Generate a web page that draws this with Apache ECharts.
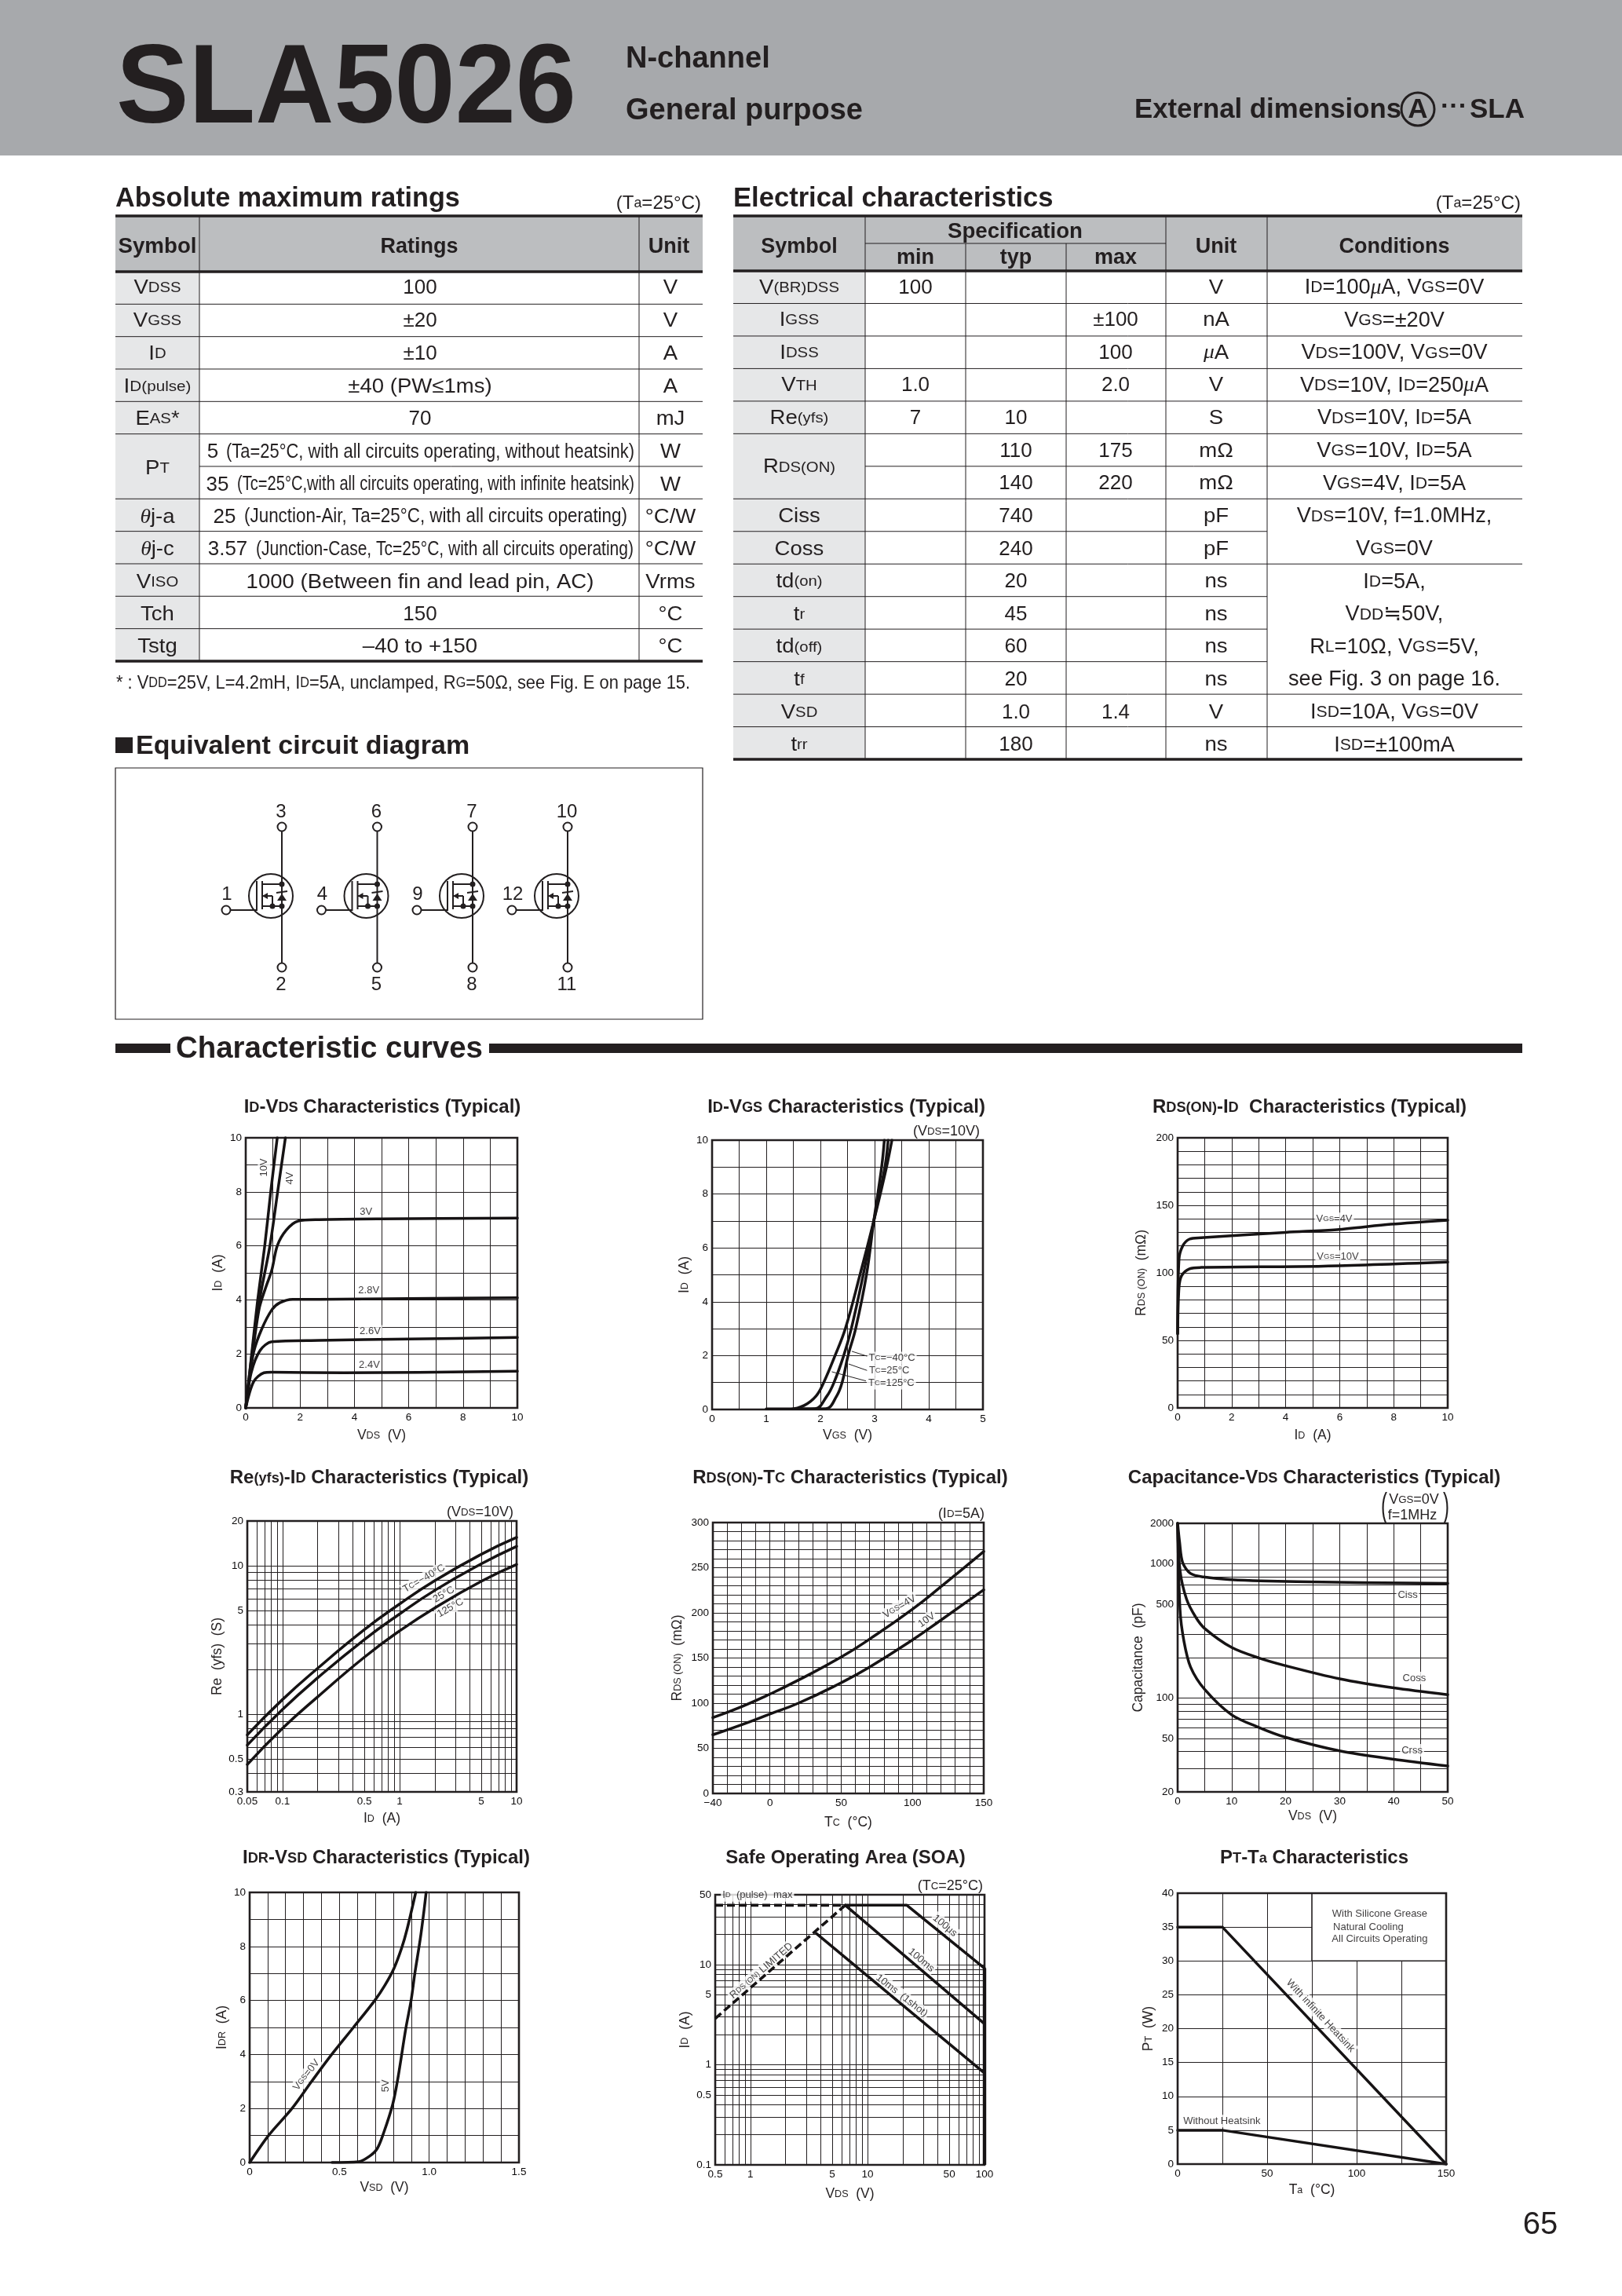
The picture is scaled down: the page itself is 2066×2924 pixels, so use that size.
<!DOCTYPE html>
<html>
<head>
<meta charset="utf-8">
<style>html,body{margin:0;padding:0;background:#fff}#c{width:2066px;height:2924px}</style>
<script src="https://cdn.jsdelivr.net/npm/echarts@6/dist/echarts.min.js"></script>
</head>
<body>
<div id="c"></div>
<script>
/* ---------- table contents ---------- */
const absSymbols=['V_{DSS}','V_{GSS}','I_{D}','I_{D(pulse)}','E_{AS}*','P_{T}','','~{θ}j-a','~{θ}j-c','V_{ISO}','Tch','Tstg'];
const absRatings=['100','±20','±10','±40 (PW≤1ms)','70','5 (Ta=25°C, with all circuits operating, without heatsink)','35 (Tc=25°C,with all circuits operating, with infinite heatsink)','25 (Junction-Air, Ta=25°C, with all circuits operating)','3.57 (Junction-Case, Tc=25°C, with all circuits operating)','1000 (Between fin and lead pin, AC)','150','–40 to +150'];
const absUnits=['V','V','A','A','mJ','W','W','°C/W','°C/W','Vrms','°C','°C'];
const elecSymbols=['V_{(BR)DSS}','I_{GSS}','I_{DSS}','V_{TH}','Re_{(yfs)}','R_{DS(ON)}','','Ciss','Coss','td_{(on)}','t_{r}','td_{(off)}','t_{f}','V_{SD}','t_{rr}'];
const elecMin=['100','','','1.0','7','','','','','','','','','',''];
const elecTyp=['','','','','10','110','140','740','240','20','45','60','20','1.0','180'];
const elecMax=['','±100','100','2.0','','175','220','','','','','','','1.4',''];
const elecUnits=['V','nA','~{μ}A','V','S','mΩ','mΩ','pF','pF','ns','ns','ns','ns','V','ns'];
const elecConds=['I_{D}=100~{μ}A, V_{GS}=0V','V_{GS}=±20V','V_{DS}=100V, V_{GS}=0V','V_{DS}=10V, I_{D}=250~{μ}A','V_{DS}=10V, I_{D}=5A','V_{GS}=10V, I_{D}=5A','V_{GS}=4V, I_{D}=5A','V_{DS}=10V, f=1.0MHz,','V_{GS}=0V','I_{D}=5A,','V_{DD}≒50V,','R_{L}=10Ω, V_{GS}=5V,','see Fig. 3 on page 16.','I_{SD}=10A, V_{GS}=0V','I_{SD}=±100mA'];

/* ---------- chart 1: ID-VDS ---------- */
const idVdsTicks=[0,1,2,3,4,5,6,7,8,9,10];
const idVdsXLabels=[0,2,4,6,8,10];
const idVds10V=[[0,0],[0.22,2],[0.44,4],[0.7,6],[0.92,8],[1.16,10]];
const idVds4V=[[0,0],[0.23,2],[0.51,4],[0.89,6],[1.175,8],[1.46,10]];
const idVds3V=[[0,0],[0.25,2],[0.5,3.7],[0.75,4.5],[0.96,5.1],[1.16,6],[1.49,6.58],[1.93,6.92],[2.7,6.97],[5,7],[10,7.03]];
const idVds28V=[[0,0],[0.15,1.2],[0.3,2.1],[0.58,2.9],[0.96,3.63],[1.25,3.89],[1.73,4.02],[2.7,4.02],[6,4.05],[10,4.08]];
const idVds26V=[[0,0],[0.2,1.3],[0.53,2.13],[0.96,2.45],[2.7,2.5],[6,2.55],[10,2.61]];
const idVds24V=[[0,0],[0.29,0.97],[0.67,1.3],[0.96,1.32],[3.6,1.3],[10,1.36]];
const idVdsNotes=[['10V',0.675,8.9,90],['4V',1.62,8.5,90],['3V',4.43,7.26,0],['2.8V',4.53,4.36,0],['2.6V',4.58,2.83,0],['2.4V',4.55,1.6,0]];

/* ---------- chart 2: ID-VGS ---------- */
const idVgsXTicks=[0,0.5,1,1.5,2,2.5,3,3.5,4,4.5,5];
const idVgsXLabels=[0,1,2,3,4,5];
const idVgsT125=[[1,0.02],[1.45,0.02],[1.7,0.15],[1.92,0.5],[2.06,1],[2.27,2],[2.46,3],[2.73,5],[2.985,7],[3.22,9],[3.32,10]];
const idVgsT25=[[1.5,0.02],[1.9,0.03],[2.12,0.5],[2.25,1],[2.43,2],[2.57,3],[2.79,5],[2.985,7],[3.19,9],[3.25,10]];
const idVgsTm40=[[1.6,0.02],[2.1,0.03],[2.3,0.5],[2.4,1],[2.51,2],[2.65,3],[2.85,5],[2.985,7],[3.13,9],[3.18,10]];
const idVgsNotes=[['T_{C}=−40°C',3.32,1.91,0],['T_{C}=25°C',3.27,1.44,0],['T_{C}=125°C',3.31,0.98,0]];
const idVgsLeaders=[[[2.58,2.16],[2.86,1.98]],[[2.52,1.69],[2.86,1.45]],[[2.21,1.4],[2.84,1.06]]];

/* ---------- chart 3: RDS(ON)-ID ---------- */
const rdsIdYTicks=[0,10,20,30,40,50,60,70,80,90,100,110,120,130,140,150,160,170,180,190,200];
const rdsIdYLabels=[0,50,100,150,200];
const rdsId4V=[[0,55],[0.05,110],[0.19,120],[0.44,125],[0.87,126],[4,130],[5.9,132],[7.9,136],[10,139]];
const rdsId10V=[[0,55],[0.05,89],[0.15,98],[0.44,103],[0.87,104],[5.4,105],[10,108]];
const rdsIdNotes=[['V_{GS}=4V',5.8,140,0],['V_{GS}=10V',5.93,112,0]];

/* ---------- chart 4: Re(yfs)-ID ---------- */
const reXTicks=[0.05,0.06,0.07,0.08,0.09,0.1,0.2,0.3,0.4,0.5,0.6,0.7,0.8,0.9,1,2,3,4,5,6,7,8,9,10];
const reXLabels=[0.05,0.1,0.5,1,5,10];
const reYTicks=[0.3,0.4,0.5,0.6,0.7,0.8,0.9,1,2,3,4,5,6,7,8,9,10,20];
const reYLabels=[0.3,0.5,1,5,10,20];
const reTm40=[[0.05,0.726],[0.1,1.256],[0.2,2.04],[0.5,3.71],[1,5.52],[2,7.93],[5,11.94],[10,15.5]];
const reT25=[[0.05,0.62],[0.1,1.077],[0.2,1.76],[0.5,3.18],[1,4.73],[2,6.82],[5,10.3],[10,13.5]];
const reT125=[[0.05,0.459],[0.1,0.804],[0.2,1.31],[0.5,2.42],[1,3.64],[2,5.2],[5,7.86],[10,10.2]];
const reNotes=[['T_{C}=−40°C',1.62,8.19,30],['25°C',2.39,6.4,30],['125°C',2.72,5.2,30]];

/* ---------- chart 5: RDS(ON)-TC ---------- */
const rdsTcXTicks=[-40,-30,-20,-10,0,10,20,30,40,50,60,70,80,90,100,110,120,130,140,150];
const rdsTcXLabels=[-40,0,50,100,150];
const rdsTcYTicks=[0,10,20,30,40,50,60,70,80,90,100,110,120,130,140,150,160,170,180,190,200,210,220,230,240,250,260,270,280,290,300];
const rdsTcYLabels=[0,50,100,150,200,250,300];
const rdsTc4V=[[-40,84],[-20,96],[0,110],[20,125.5],[50,151],[70,171],[100,204],[120,229],[150,268]];
const rdsTc10V=[[-40,65],[-20,76],[0,88],[20,100],[50,122.6],[70,140],[100,170],[120,192],[150,225.5]];
const rdsTcNotes=[['V_{GS}=4V',91,206.7,30],['10V',110,192,35]];

/* ---------- chart 6: Capacitance-VDS ---------- */
const capXTicks=[0,5,10,15,20,25,30,35,40,45,50];
const capXLabels=[0,10,20,30,40,50];
const capYTicks=[20,30,40,50,60,70,80,90,100,200,300,400,500,600,700,800,900,1000,2000];
const capYLabels=[20,50,100,500,1000,2000];
const capCiss=[[0,2000],[0.35,1462],[0.92,1021],[2.4,846],[4.8,797],[9.9,762],[22,736],[50,713]];
const capCoss=[[0,2000],[0.44,893],[1.65,545],[3.35,400],[5,330],[10,238],[15,199],[20,174],[30,139],[40,119],[50,106]];
const capCrss=[[0,2000],[0.44,455],[1.16,266],[2.4,170],[5,116],[10,75],[15,60.5],[20,51],[30,40.4],[40,35],[50,31.2]];
const capNotes=[['Ciss',42.6,582,0],['Coss',43.8,141,0],['Crss',43.4,40.8,0]];

/* ---------- chart 7: IDR-VSD ---------- */
const idrXTicks=[0,0.1,0.2,0.3,0.4,0.5,0.6,0.7,0.8,0.9,1,1.1,1.2,1.3,1.4,1.5];
const idrXLabels=[0,0.5,1,1.5];
const idrYTicks=[0,1,2,3,4,5,6,7,8,9,10];
const idrYLabels=[0,2,4,6,8,10];
const idr0V=[[0,0],[0.105,1],[0.236,2],[0.345,3],[0.457,4],[0.578,5],[0.697,6],[0.753,6.56],[0.804,7.19],[0.848,7.97],[0.877,8.64],[0.925,10]];
const idr5V=[[0.459,0],[0.607,0.03],[0.665,0.22],[0.71,0.51],[0.746,1.09],[0.797,2.16],[0.826,3.13],[0.87,4.97],[0.9,6.03],[0.92,7],[0.95,8.26],[0.971,9.32],[0.983,10]];
const idrNotes=[['V_{GS}=0V',0.316,3.24,52],['5V',0.76,2.84,90]];

/* ---------- chart 8: SOA ---------- */
const soaXTicks=[0.5,0.6,0.7,0.8,0.9,1,2,3,4,5,6,7,8,9,10,20,30,40,50,60,70,80,90,100];
const soaXLabels=[0.5,1,5,10,50,100];
const soaYTicks=[0.1,0.2,0.3,0.4,0.5,0.6,0.7,0.8,0.9,1,2,3,4,5,6,7,8,9,10,20,30,40,50];
const soaYLabels=[0.1,0.5,1,5,10,50];
const soaPulseDash=[[0.5,39.3],[6.46,39.3]];
const soaRdsLimit=[[0.5,2.9],[6.46,39.3]];
const soa100us=[[6.46,39.3],[21.7,39.3],[100,9.2]];
const soa100ms=[[6.46,39.3],[100,2.57]];
const soa10ms=[[3.66,20.5],[100,0.826]];
const soaEdge=[[100,9.2],[100,0.1]];
const soaNotes=[['I_{D}  (pulse)  max',1.148,49.4,0],['R_{DS (ON)} LIMITED',1.24,8.69,41],['100μs',45.9,24.5,-40],['100ms',28.8,11.1,-40],['10ms  (1shot)',19.6,4.9,-38]];

/* ---------- chart 9: PT-Ta ---------- */
const ptXTicks=[0,25,50,75,100,125,150];
const ptXLabels=[0,50,100,150];
const ptYTicks=[0,5,10,15,20,25,30,35,40];
const ptInfinite=[[0,35],[25,35],[150,0]];
const ptNone=[[0,5],[25,5],[150,0]];
const ptBox=[[75,30],[150,40]];
const ptNotes=[['With infinite Heatsink',79.8,21.9,-47],['Without Heatsink',24.7,6.34,0],['With Silicone Grease',112.9,36.9,0],['Natural Cooling',106.5,35,0],['All Circuits Operating',112.9,33.2,0]];

/* ---------- circuit ---------- */
const pinTop=['3','6','7','10'];
const pinBottom=['2','5','8','11'];
const pinGate=['1','4','9','12'];

/* ---------- helpers ---------- */
const INK='#231f20', DARK='#0c0a0b', SANS='"Liberation Sans","DejaVu Sans",sans-serif', SERIF='"Liberation Serif","DejaVu Serif",serif';
function rt(s){
  if(!s) return '';
  return s.replace(/_\{([^}]*)\}|~\{([^}]*)\}|([^_~]+)/g,(m,a,b,c)=>a!=null?'{s|'+a+'}':b!=null?'{i|'+b+'}':'{n|'+c+'}');
}
function rich(size,bold,sub,ink){
  sub=sub||0.74;ink=ink||INK;
  const lh=Math.round(size*1.2);
  const base=(fs,fam,extra)=>Object.assign({fontSize:fs,fontFamily:fam,fontWeight:bold?'bold':'normal',fill:ink,color:ink,lineHeight:lh,height:lh,verticalAlign:'bottom'},extra||{});
  return {n:base(size,SANS),s:base(Math.round(size*sub*10)/10,SANS),i:base(size,SERIF,{fontStyle:'italic'})};
}
const mctx=document.createElement('canvas').getContext('2d');
function measure(s,size,bold,sub){
  let w=0;const b=bold?'bold ':'';
  s.replace(/_\{([^}]*)\}|~\{([^}]*)\}|([^_~]+)/g,(m,a,x,c)=>{
    if(a!=null){mctx.font=b+(size*(sub||0.74))+'px '+SANS;w+=mctx.measureText(a).width;}
    else if(x!=null){mctx.font='italic '+b+size+'px '+SERIF;w+=mctx.measureText(x).width;}
    else{mctx.font=b+size+'px '+SANS;w+=mctx.measureText(c).width;}
    return m;});
  return w;
}
function T(x,y,s,o){
  o=o||{};const size=o.size||26;
  const el={type:'text',x:x,y:y+size*0.085+0.5,silent:true,z:o.z||10,style:{text:rt(s),rich:rich(size,o.bold,o.sub),align:o.align||'center',verticalAlign:'middle',textAlign:o.align||'center',textVerticalAlign:'middle'}};
  if(o.fit) el.scaleX=o.fit/measure(s,size,o.bold,o.sub);
  else if(o.stretch) el.scaleX=o.stretch;
  return el;
}
const isNumeric=s=>/^[±\d.]+$/.test(s);
const cell=(x,y,s,size)=>T(x,y,s,{size:size||26,stretch:isNumeric(s)?1:1.06});
const L=(x1,y1,x2,y2,w,c)=>({type:'line',silent:true,z:9,shape:{x1,y1,x2,y2},style:{stroke:c||INK,lineWidth:w||1.2}});
const R=(x,y,w,h,c)=>({type:'rect',silent:true,z:5,shape:{x,y,width:w,height:h},style:{fill:c}});
const C=(cx,cy,r,fill,stroke,lw)=>({type:'circle',silent:true,z:9,shape:{cx,cy,r},style:{fill:fill,stroke:stroke||null,lineWidth:lw||0}});
const P=(pts,fill)=>({type:'polygon',silent:true,z:9,shape:{points:pts},style:{fill:fill||INK}});

/* ---------- page furniture ---------- */
const G=[];
G.push(R(0,0,2066,198,'#a7a9ac'));
G.push(T(148,104,'SLA5026',{size:143,bold:true,align:'left',fit:586}));
G.push(T(797,72,'N-channel',{size:38,bold:true,align:'left'}));
G.push(T(797,138,'General purpose',{size:38,bold:true,align:'left'}));
G.push(T(1445,137,'External dimensions',{size:35,bold:true,align:'left',fit:340}));
G.push(C(1806,139,21,'none',INK,3));
G.push(T(1806,137,'A',{size:35,bold:true}));
G.push(T(1852,133,'···',{size:34,bold:true}));
G.push(T(1942,137,'SLA',{size:35,bold:true,align:'right'}));

/* absolute maximum ratings */
G.push(T(147,250,'Absolute maximum ratings',{size:34.2,bold:true,align:'left'}));
G.push(T(893,257,'(T_{a}=25°C)',{size:24,align:'right'}));
const A={l:147,r:895,c1:254,c2:814,top:275,hb:346,rh:41.33};
G.push(R(A.l,A.top,A.r-A.l,A.hb-A.top,'#bcbec0'));
G.push(R(A.l,A.hb,A.c1-A.l,A.rh*12,'#e6e7e8'));
G.push(T((A.l+A.c1)/2,312,'Symbol',{size:27,bold:true,fit:100}));
G.push(T((A.c1+A.c2)/2,312,'Ratings',{size:27,bold:true}));
G.push(T(852,312,'Unit',{size:27,bold:true}));
/* rows whose value stands beside a condensed condition: value centre, condition left, condition right */
const absSplit={5:[271,288,808],6:[277,302,808],7:[286,311,799],8:[290,326,807]};
absRatings.forEach((t,i)=>{
  const cy=A.hb+A.rh*(i+0.5)+(i<5?(i-5)*0.5:0);
  if(absSymbols[i]){
    const span=absSymbols[i+1]===''?2:1;
    G.push(T((A.l+A.c1)/2,cy+A.rh*(span-1)/2,absSymbols[i],{size:26,fit:i===3?86:undefined,stretch:1.06}));
  }
  const sp=absSplit[i];
  if(sp){
    const k=t.indexOf(' ');
    G.push(T(sp[0],cy,t.slice(0,k),{size:26}));
    G.push(T(sp[1],cy,t.slice(k+1),{size:25,align:'left',fit:sp[2]-sp[1]}));
  } else G.push(cell(535,cy,t));
  G.push(cell(854,cy,absUnits[i]));
  if(i<11) G.push(L(i===5?A.c1:A.l,A.hb+A.rh*(i+1),A.r,A.hb+A.rh*(i+1),1));
});
G.push(L(A.c1,A.top,A.c1,A.hb+A.rh*12,1),L(A.c2,A.top,A.c2,A.hb+A.rh*12,1));
G.push(L(A.l,A.top,A.r,A.top,3.5),L(A.l,A.hb,A.r,A.hb,3.5),L(A.l,A.hb+A.rh*12,A.r,A.hb+A.rh*12,3.5));
G.push(T(148,868,'* : V_{DD}=25V, L=4.2mH, I_{D}=5A, unclamped, R_{G}=50Ω, see Fig. E on page 15.',{size:24,align:'left',fit:731}));

/* electrical characteristics */
G.push(T(934,250,'Electrical characteristics',{size:34.6,bold:true,align:'left'}));
G.push(T(1937,257,'(T_{a}=25°C)',{size:24,align:'right'}));
const E={l:934,r:1939,c:[1102,1230,1358,1485,1614],top:275,sub:310,hb:345,rh:41.47};
G.push(R(E.l,E.top,E.r-E.l,E.hb-E.top,'#bcbec0'));
G.push(R(E.l,E.hb,E.c[0]-E.l,E.rh*15,'#e6e7e8'));
G.push(T(1018,312,'Symbol',{size:27,bold:true}));
G.push(T(1293,293,'Specification',{size:27,bold:true,fit:172}));
G.push(T(1166,326,'min',{size:27,bold:true}),T(1294,326,'typ',{size:27,bold:true}),T(1421,326,'max',{size:27,bold:true}));
G.push(T(1549,312,'Unit',{size:27,bold:true}),T(1776,312,'Conditions',{size:27,bold:true}));
const noCondLine=[7,9,10,11];
elecSymbols.forEach((t,i)=>{
  const cy=E.hb+E.rh*(i+0.5)+(i-7)*0.15-1;
  if(t){
    const span=elecSymbols[i+1]===''?2:1;
    G.push(T(1018,cy+E.rh*(span-1)/2,t,{size:26,stretch:1.06}));
  }
  if(elecMin[i]) G.push(T(1166,cy,elecMin[i],{size:26}));
  if(elecTyp[i]) G.push(T(1294,cy,elecTyp[i],{size:26}));
  if(elecMax[i]) G.push(T(1421,cy,elecMax[i],{size:26}));
  G.push(cell(1549,cy,elecUnits[i]));
  G.push(T(1776,cy,elecConds[i],{size:27,sub:0.78,stretch:1.005}));
  if(i<14){
    const yy=E.hb+E.rh*(i+1);
    const x1=i===5?E.c[0]:E.l, x2=noCondLine.includes(i)?E.c[4]:E.r;
    G.push(L(x1,yy,x2,yy,1));
  }
});
E.c.forEach((x,k)=>G.push(L(x,(k===1||k===2)?E.sub:E.top,x,E.hb+E.rh*15,1)));
G.push(L(E.c[0],E.sub,E.c[3],E.sub,1));
G.push(L(E.l,E.top,E.r,E.top,3.5),L(E.l,E.hb,E.r,E.hb,3.5),L(E.l,E.hb+E.rh*15,E.r,E.hb+E.rh*15,3.5));

/* equivalent circuit */
G.push(R(147,939,22,20,INK));
G.push(T(173,947,'Equivalent circuit diagram',{size:34,bold:true,align:'left'}));
G.push({type:'rect',silent:true,z:8,shape:{x:147,y:978,width:748,height:320},style:{fill:'none',stroke:INK,lineWidth:1.2}});
[359,480.5,602,723].forEach((d,k)=>{
  const w=2;
  G.push(L(d,1058,d,1227,w));
  G.push(C(d,1053,5.5,'#fff',INK,2),C(d,1232,5.5,'#fff',INK,2));
  G.push(C(d-14,1141,28,'none',INK,2));
  G.push(C(d-71,1159,5.5,'#fff',INK,2));
  G.push(L(d-65,1159,d-32,1159,w),L(d-32,1122,d-32,1160,w),L(d-25,1122,d-25,1158,w));
  G.push(L(d-25,1126,d,1126,w),L(d-25,1154,d,1154,w),L(d-25,1141,d-12,1141,w),L(d-12,1141,d-12,1154,w));
  G.push(C(d,1126,3.5,INK),C(d,1154,3.5,INK),C(d-12,1154,3.5,INK));
  G.push(P([[d-25,1141],[d-18,1137],[d-18,1145]]));
  G.push(P([[d-6,1147],[d+6,1147],[d,1138]]),L(d-7,1137,d+7,1135,w));
  G.push(T(d-1,1032,pinTop[k],{size:24}),T(d-1,1252,pinBottom[k],{size:24}));
  G.push(T(d-70,1137,pinGate[k],{size:24}));
});

/* section bar */
G.push(R(147,1329,70,12,INK),R(623,1329,1316,12,INK));
G.push(T(224,1333,'Characteristic curves',{size:38,bold:true,align:'left',fit:391}));
G.push(T(1962,2830,'65',{size:40}));

/* notes above the plots */
G.push(T(1248,1439,'(V_{DS}=10V)',{size:18,align:'right'}));
G.push(T(654,1924,'(V_{DS}=10V)',{size:18,align:'right'}));
G.push(T(1254,1926,'(I_{D}=5A)',{size:18,align:'right'}));
G.push(T(1252,2400,'(T_{C}=25°C)',{size:18,align:'right'}));
G.push(T(1801,1908,'V_{GS}=0V',{size:18}),T(1799,1928,'f=1MHz',{size:18}));
G.push(T(1763,1916,'(',{size:44,fit:8}),T(1842,1916,')',{size:44,fit:8}));

/* ---------- charts ---------- */
const charts=[
 {title:'I_{D}-V_{DS} Characteristics (Typical)',tc:[487,1407],box:[313,1449,659,1793],
  x:{name:'V_{DS}  (V)',gap:25,min:0,max:10,ticks:idVdsTicks,labels:idVdsXLabels},
  y:{name:'I_{D}  (A)',gap:12,min:0,max:10,ticks:idVdsTicks,labels:idVdsXLabels},
  curves:[idVds10V,idVds4V,idVds3V,idVds28V,idVds26V,idVds24V],notes:idVdsNotes,smooth:0.3},
 {title:'I_{D}-V_{GS} Characteristics (Typical)',tc:[1078,1407],box:[907,1452,1252,1795],
  x:{name:'V_{GS}  (V)',gap:23,min:0,max:5,ticks:idVgsXTicks,labels:idVgsXLabels},
  y:{name:'I_{D}  (A)',gap:15,min:0,max:10,ticks:idVdsTicks,labels:idVdsXLabels},
  curves:[idVgsT125,idVgsT25,idVgsTm40],notes:idVgsNotes,leaders:idVgsLeaders,smooth:0.4},
 {title:'R_{DS(ON)}-I_{D}  Characteristics (Typical)',tc:[1668,1407],box:[1500,1449,1844,1793],
  x:{name:'I_{D}  (A)',gap:25,min:0,max:10,ticks:idVdsTicks,labels:idVdsXLabels},
  y:{name:'R_{DS (ON)}  (mΩ)',gap:35,min:0,max:200,ticks:rdsIdYTicks,labels:rdsIdYLabels},
  curves:[rdsId4V,rdsId10V],notes:rdsIdNotes,smooth:0.3},
 {title:'Re_{(yfs)}-I_{D} Characteristics (Typical)',tc:[483,1879],box:[315,1937,658,2282],
  x:{name:'I_{D}  (A)',gap:24,log:true,min:0.05,max:10,ticks:reXTicks,labels:reXLabels},
  y:{name:'Re  (yfs)  (S)',gap:26,log:true,min:0.3,max:20,ticks:reYTicks,labels:reYLabels},
  curves:[reTm40,reT25,reT125],notes:reNotes,smooth:0.5},
 {title:'R_{DS(ON)}-T_{C} Characteristics (Typical)',tc:[1083,1879],box:[908,1939,1253,2284],
  x:{name:'T_{C}  (°C)',gap:27,min:-40,max:150,ticks:rdsTcXTicks,labels:rdsTcXLabels},
  y:{name:'R_{DS (ON)}  (mΩ)',gap:34,min:0,max:300,ticks:rdsTcYTicks,labels:rdsTcYLabels},
  curves:[rdsTc4V,rdsTc10V],notes:rdsTcNotes,smooth:0.5},
 {title:'Capacitance-V_{DS} Characteristics (Typical)',tc:[1674,1879],box:[1500,1940,1844,2282],
  x:{name:'V_{DS}  (V)',gap:21,min:0,max:50,ticks:capXTicks,labels:capXLabels},
  y:{name:'Capacitance  (pF)',gap:33,log:true,min:20,max:2000,ticks:capYTicks,labels:capYLabels},
  curves:[capCiss,capCoss,capCrss],notes:capNotes,smooth:0.3},
 {title:'I_{DR}-V_{SD} Characteristics (Typical)',tc:[492,2363],box:[318,2410,661,2754],
  x:{name:'V_{SD}  (V)',gap:22,min:0,max:1.5,ticks:idrXTicks,labels:idrXLabels,fmt:v=>v===0?'0':v.toFixed(1)},
  y:{name:'I_{DR}  (A)',gap:17,min:0,max:10,ticks:idrYTicks,labels:idrYLabels},
  curves:[idr0V,idr5V],notes:idrNotes,smooth:0.3},
 {title:'Safe Operating Area (SOA)',tc:[1077,2363],box:[911,2413,1254,2757],
  x:{name:'V_{DS}  (V)',gap:27,log:true,min:0.5,max:100,ticks:soaXTicks,labels:soaXLabels},
  y:{name:'I_{D}  (A)',gap:23,log:true,min:0.1,max:50,ticks:soaYTicks,labels:soaYLabels},
  curves:[soa100us,soa100ms,soa10ms],dashed:[soaPulseDash,soaRdsLimit],edge:soaEdge,notes:soaNotes,smooth:0},
 {title:'P_{T}-T_{a} Characteristics',tc:[1674,2363],box:[1500,2411,1842,2756],
  x:{name:'T_{a}  (°C)',gap:23,min:0,max:150,ticks:ptXTicks,labels:ptXLabels},
  y:{name:'P_{T}  (W)',gap:26,min:0,max:40,ticks:ptYTicks,labels:ptYTicks},
  curves:[ptInfinite,ptNone],notes:ptNotes,area:ptBox,smooth:0,frameOnTop:true}
];

const titles=[],grids=[],xAxes=[],yAxes=[],series=[];
function axis(a,i,isY){
  return {gridIndex:i,type:a.log?'log':'value',logBase:10,min:a.min,max:a.max,
    name:rt(a.name),nameLocation:'middle',nameGap:a.gap,nameRotate:isY?90:0,
    nameTextStyle:{rich:rich(17.5,false,0.72)},
    axisLine:{show:false},
    axisTick:{show:false,customValues:a.ticks},
    axisLabel:{show:true,customValues:a.labels,margin:5,fontSize:13.5,color:DARK,fontFamily:SANS,hideOverlap:false,padding:isY?[4,0,0,0]:0,
      formatter:v=>{const f=a.fmt?a.fmt(v):String(+(+v).toPrecision(6));return f.replace('-','−');}},
    splitLine:{show:true,lineStyle:{color:INK,width:1}},
    minorTick:{show:false},minorSplitLine:{show:false}};
}
charts.forEach((c,i)=>{
  titles.push({text:rt(c.title),left:c.tc[0],top:c.tc[1]-11,textAlign:'center',textStyle:{rich:rich(24,true,0.76)},padding:0});
  const b=c.box;
  grids.push({left:b[0],top:b[1],width:b[2]-b[0],height:b[3]-b[1],show:true,backgroundColor:'transparent',borderColor:INK,borderWidth:2.6,containLabel:false,z:c.frameOnTop?3:0});
  xAxes.push(axis(c.x,i,false));
  yAxes.push(axis(c.y,i,true));
  const base={type:'line',xAxisIndex:i,yAxisIndex:i,symbol:'none',showSymbol:false,silent:true,animation:false,z:2};
  c.curves.forEach(d=>series.push(Object.assign({},base,{data:d,smooth:c.smooth,lineStyle:{color:'#161314',width:3.5,cap:'round',join:'round'}})));
  (c.dashed||[]).forEach(d=>series.push(Object.assign({},base,{data:d,lineStyle:{color:'#161314',width:3.6,type:[10,5]}})));
  if(c.edge) series.push(Object.assign({},base,{data:c.edge,clip:false,lineStyle:{color:'#161314',width:4.4}}));
  (c.leaders||[]).forEach(d=>series.push(Object.assign({},base,{data:d,lineStyle:{color:INK,width:1}})));
  const ann={type:'scatter',xAxisIndex:i,yAxisIndex:i,symbol:'circle',symbolSize:1,silent:true,animation:false,clip:false,z:1,
    itemStyle:{color:'rgba(0,0,0,0)'},
    label:{show:true,position:'inside',align:'center',verticalAlign:'middle',backgroundColor:'#fff',padding:[0,2],rich:rich(13,false,0.74,DARK)},
    data:c.notes.map(n=>({value:[n[1],n[2]],label:{formatter:rt(n[0]),rotate:n[3]}}))};
  if(c.area) ann.markArea={silent:true,animation:false,itemStyle:{color:'#fff',borderColor:INK,borderWidth:1.6},
    data:[[{coord:c.area[0]},{coord:c.area[1]}]]};
  series.push(ann);
});

const chart=echarts.init(document.getElementById('c'),null,{renderer:'canvas',width:2066,height:2924});
chart.setOption({animation:false,backgroundColor:'#fff',title:titles,grid:grids,xAxis:xAxes,yAxis:yAxes,series:series,graphic:{elements:G}});
</script>
</body>
</html>
